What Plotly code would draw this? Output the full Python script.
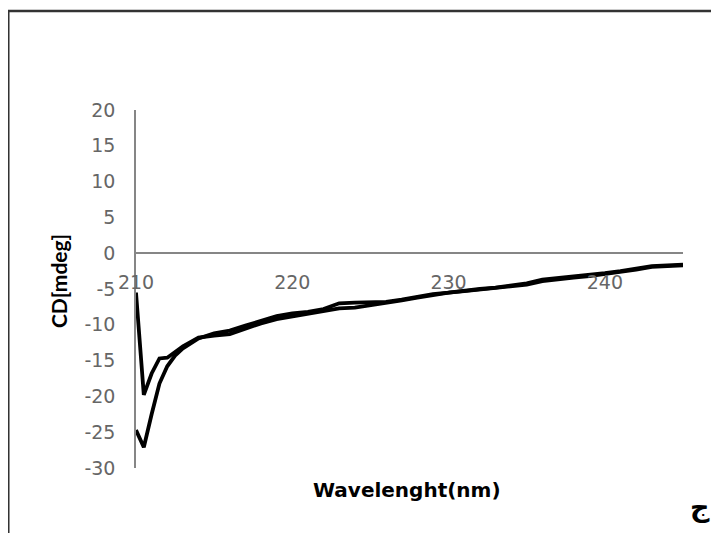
import plotly.graph_objects as go

wl_a = [210, 210.5, 211, 211.5, 212, 213, 214, 214.5, 215, 216, 217, 218, 219, 220,
        221, 222, 223, 224, 225, 226, 227, 228, 229, 230, 231, 232, 233, 234, 235,
        236, 237, 238, 239, 240, 241, 242, 243, 244, 245]
cd_a = [-5.5, -19.8, -16.8, -14.7, -14.6, -13.0, -11.8, -11.6, -11.5, -11.3, -10.5, -9.8,
        -9.2, -8.8, -8.4, -8.0, -7.7, -7.6, -7.3, -7.0, -6.6, -6.2, -5.8, -5.5, -5.3,
        -5.1, -4.9, -4.7, -4.4, -3.9, -3.6, -3.4, -3.2, -2.9, -2.7, -2.3, -1.9, -1.8, -1.7]

wl_b = [210, 210.5, 211, 211.5, 212, 212.5, 213, 213.5, 214, 215, 216, 217, 218, 219,
        220, 221, 222, 223, 224, 225, 226, 227, 228, 229, 230, 231, 232, 233, 234,
        235, 236, 237, 238, 239, 240, 241, 242, 243, 244, 245]
cd_b = [-24.7, -27.1, -22.5, -18.2, -15.8, -14.3, -13.3, -12.6, -11.9, -11.2, -10.8,
        -10.1, -9.4, -8.8, -8.4, -8.2, -7.8, -7.0, -6.9, -6.9, -6.8, -6.5, -6.1, -5.7,
        -5.5, -5.2, -5.0, -4.8, -4.5, -4.2, -3.7, -3.5, -3.3, -3.1, -2.8, -2.5, -2.1,
        -1.8, -1.7, -1.6]

x_ticks = [210, 220, 230, 240]
y_ticks = [20, 15, 10, 5, 0, -5, -10, -15, -20, -25, -30]
x_title = "Wavelenght(nm)"
y_title = "CD[mdeg]"
corner_label = "ج"

TICK_FONT = "DejaVu Sans, sans-serif"
GRAY = "#666666"
AXIS = "#868686"

fig = go.Figure()
for wl, cd in [(wl_a, cd_a), (wl_b, cd_b)]:
    fig.add_trace(go.Scatter(x=wl, y=cd, mode="lines",
                             line=dict(color="black", width=3.8),
                             showlegend=False, hoverinfo="skip"))

fig.update_layout(
    width=711, height=525,
    margin=dict(l=128, r=36, t=102, b=65),
    paper_bgcolor="white", plot_bgcolor="white",
    font=dict(family=TICK_FONT, color=GRAY, size=19),
    xaxis=dict(range=[210, 245], tickvals=x_ticks, ticktext=[str(v) for v in x_ticks],
               showgrid=False, zeroline=False, showline=True, linecolor=AXIS, linewidth=1.5,
               anchor="free", position=0.6, ticks="", ticklabelstandoff=12,
               tickfont=dict(family=TICK_FONT, size=19, color=GRAY)),
    yaxis=dict(range=[-30, 20], tickvals=y_ticks, ticktext=[str(v) for v in y_ticks],
               showgrid=False, zeroline=False, showline=True, linecolor=AXIS, linewidth=1.5,
               ticks="", ticklabelstandoff=15,
               tickfont=dict(family=TICK_FONT, size=19, color=GRAY)),
    shapes=[dict(type="rect", xref="paper", yref="paper",
                 x0=-0.2335, x1=1.2, y0=-0.3, y1=1.2765,
                 line=dict(color="#333333", width=2.5), fillcolor="rgba(0,0,0,0)",
                 layer="below")],
    annotations=[
        dict(text="<b>" + x_title + "</b>", xref="paper", yref="paper", x=0.4954, y=-0.0615,
             showarrow=False, font=dict(family="DejaVu Sans", size=20, color="black"),
             xanchor="center", yanchor="middle"),
        dict(text="<b>" + y_title + "</b>", xref="paper", yref="paper", x=-0.1426, y=0.522,
             showarrow=False, textangle=-90, font=dict(family="Lato", size=21, color="black"),
             xanchor="center", yanchor="middle"),
        dict(text="<b>" + corner_label + "</b>", xref="paper", yref="paper", x=1.031, y=-0.11,
             showarrow=False, font=dict(family="DejaVu Sans", size=27, color="black"),
             xanchor="center", yanchor="middle"),
    ],
)

fig.write_html("out.html")
